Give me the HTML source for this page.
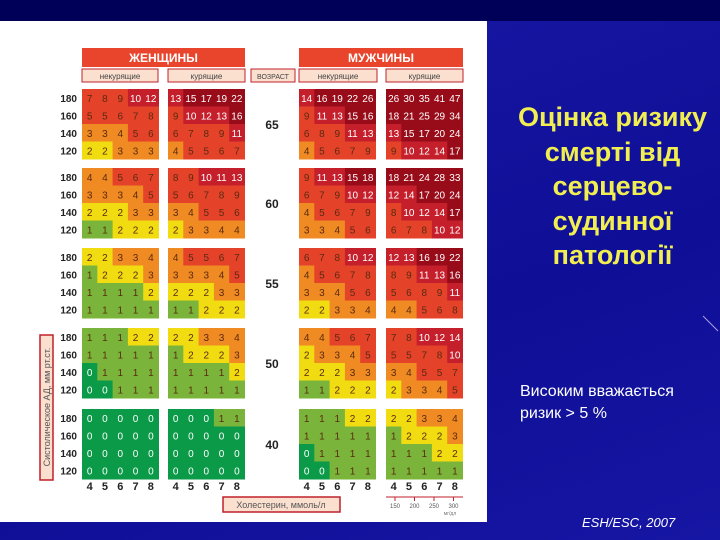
<!DOCTYPE html>
<html><head><meta charset="utf-8">
<style>
body{margin:0;width:720px;height:540px;overflow:hidden;background:#1212a0;font-family:"Liberation Sans",sans-serif;position:relative}
#bg{position:absolute;left:0;top:0;width:720px;height:540px;background:linear-gradient(160deg,#1a1aa8 0%,#0e0e96 60%,#1616a4 100%)}
#top{position:absolute;left:0;top:0;width:720px;height:21px;background:#000058}
#panel{position:absolute;left:0;top:21px;width:487px;height:501px;background:#fff}
#title{position:absolute;left:500px;top:100px;width:225px;text-align:center;color:#f0ee50;font-weight:bold;font-size:27px;line-height:34.5px;white-space:nowrap}
#sub{position:absolute;left:520px;top:381px;color:#fff;font-size:16px;line-height:22px}
#src{position:absolute;left:582px;top:515px;color:#fff;font-size:13px;font-style:italic}
svg{position:absolute;left:0;top:0}
</style></head><body>
<div id="bg"></div>
<div id="top"></div>
<div id="panel"></div>
<div id="title">Оцінка ризику<br>смерті від<br>серцево-<br>судинної<br>патології</div>
<div id="sub">Високим вважається<br>ризик &gt; 5 %</div>
<div id="src">ESH/ESC, 2007</div>
<svg id="chart" width="720" height="540"></svg>
<script>
const ages=["65","60","55","50","40"];
const pressures=["180","160","140","120"];
const cholesterol=["4","5","6","7","8"];
const womenNonSmoker=[
[[7,8,9,10,12],[5,5,6,7,8],[3,3,4,5,6],[2,2,3,3,3]],
[[4,4,5,6,7],[3,3,3,4,5],[2,2,2,3,3],[1,1,2,2,2]],
[[2,2,3,3,4],[1,2,2,2,3],[1,1,1,1,2],[1,1,1,1,1]],
[[1,1,1,2,2],[1,1,1,1,1],[0,1,1,1,1],[0,0,1,1,1]],
[[0,0,0,0,0],[0,0,0,0,0],[0,0,0,0,0],[0,0,0,0,0]]];
const womenSmoker=[
[[13,15,17,19,22],[9,10,12,13,16],[6,7,8,9,11],[4,5,5,6,7]],
[[8,9,10,11,13],[5,6,7,8,9],[3,4,5,5,6],[2,3,3,4,4]],
[[4,5,5,6,7],[3,3,3,4,5],[2,2,2,3,3],[1,1,2,2,2]],
[[2,2,3,3,4],[1,2,2,2,3],[1,1,1,1,2],[1,1,1,1,1]],
[[0,0,0,1,1],[0,0,0,0,0],[0,0,0,0,0],[0,0,0,0,0]]];
const menNonSmoker=[
[[14,16,19,22,26],[9,11,13,15,16],[6,8,9,11,13],[4,5,6,7,9]],
[[9,11,13,15,18],[6,7,9,10,12],[4,5,6,7,9],[3,3,4,5,6]],
[[6,7,8,10,12],[4,5,6,7,8],[3,3,4,5,6],[2,2,3,3,4]],
[[4,4,5,6,7],[2,3,3,4,5],[2,2,2,3,3],[1,1,2,2,2]],
[[1,1,1,2,2],[1,1,1,1,1],[0,1,1,1,1],[0,0,1,1,1]]];
const menSmoker=[
[[26,30,35,41,47],[18,21,25,29,34],[13,15,17,20,24],[9,10,12,14,17]],
[[18,21,24,28,33],[12,14,17,20,24],[8,10,12,14,17],[6,7,8,10,12]],
[[12,13,16,19,22],[8,9,11,13,16],[5,6,8,9,11],[4,4,5,6,8]],
[[7,8,10,12,14],[5,5,7,8,10],[3,4,5,5,7],[2,3,3,4,5]],
[[2,2,3,3,4],[1,2,2,2,3],[1,1,1,2,2],[1,1,1,1,1]]];
const groupLefts=[82,168,299,386];
const blockTops=[89,168,248,328,409];
const cw=15.3,ch=17.5;
const NS="http://www.w3.org/2000/svg";
const svg=document.getElementById('chart');
function mk(tag,attrs,txt){const e=document.createElementNS(NS,tag);for(const k in attrs)e.setAttribute(k,attrs[k]);if(txt!==undefined)e.textContent=txt;svg.appendChild(e);return e;}
function color(v){if(v<=0)return"#0b9a48";if(v==1)return"#7ab43a";if(v==2)return"#f0dc10";if(v<=4)return"#f08a22";if(v<=9)return"#e4432a";if(v<=14)return"#c51f2c";return"#980c1a";}
function xCol(g,c){return groupLefts[g]+c*cw;}
function yRow(a,r){return blockTops[a]+r*ch;}
const groups=[womenNonSmoker,womenSmoker,menNonSmoker,menSmoker];
const gnames=["women-nonsmoker","women-smoker","men-nonsmoker","men-smoker"];
groups.forEach((G,g)=>{ages.forEach((age,a)=>{G[a].forEach((row,r)=>{row.forEach((v,c)=>{
 const rc=mk('rect',{x:xCol(g,c),y:yRow(a,r),width:cw+0.5,height:ch+0.5,fill:color(v)});
 
 
 const tx=mk('text',{x:xCol(g,c)+cw/2,y:yRow(a,r)+ch/2+4,'text-anchor':'middle','font-size':10,fill:(v>=10||v==0)?'#fff':'#5a2a10','font-family':'Liberation Sans'},String(v));
 
 
});});});});
ages.forEach((age,a)=>{
 pressures.forEach((p,r)=>{const t=mk('text',{x:77,y:yRow(a,r)+ch/2+4,'text-anchor':'end','font-size':10,'font-weight':'bold',fill:'#222'},p);
 });
 const t=mk('text',{x:272,y:blockTops[a]+40,'text-anchor':'middle','font-size':12,'font-weight':'bold',fill:'#222'},age);
 
});
groupLefts.forEach((gl,g)=>{cholesterol.forEach((c,i)=>{const t=mk('text',{x:xCol(g,i)+cw/2,y:490,'text-anchor':'middle','font-size':11,'font-weight':'bold',fill:'#222'},c);
 });});
[[82,245,"ЖЕНЩИНЫ"],[299,463,"МУЖЧИНЫ"]].forEach(h=>{
 const r=mk('rect',{x:h[0],y:48,width:h[1]-h[0],height:19,fill:'#e8452c'});
 const t=mk('text',{x:(h[0]+h[1])/2,y:62,'text-anchor':'middle','font-size':12,'font-weight':'bold',fill:'#fff'},h[2]);
});
[[82,158,"некурящие"],[168,245,"курящие"],[251,295,"ВОЗРАСТ"],[299,377,"некурящие"],[386,463,"курящие"]].forEach(h=>{
 const r=mk('rect',{x:h[0],y:69,width:h[1]-h[0],height:13,fill:'#fbe0cf',stroke:'#c0202a','stroke-width':1});
 const t=mk('text',{x:(h[0]+h[1])/2,y:79,'text-anchor':'middle','font-size':h[2]=="ВОЗРАСТ"?7:8,fill:'#444'},h[2]);
});
let r=mk('rect',{x:40,y:335,width:13,height:145,fill:'#fbe0cf',stroke:'#c0202a','stroke-width':1.5});
let t=mk('text',{x:50,y:407,'text-anchor':'middle','font-size':9,fill:'#555',transform:'rotate(-90 50 407)'},"Систолическое АД, мм рт.ст.");
r=mk('rect',{x:223,y:497,width:117,height:15,fill:'#fbe0cf',stroke:'#c0202a','stroke-width':1.5});
t=mk('text',{x:281,y:508,'text-anchor':'middle','font-size':9,fill:'#555'},"Холестерин, ммоль/л");
const mgTicks=["150","200","250","300"];
let l=mk('line',{x1:386,y1:497,x2:463,y2:497,stroke:'#c0202a','stroke-width':1});
mgTicks.forEach((m,i)=>{const x=395+i*19.5;
 const k=mk('line',{x1:x,y1:497,x2:x,y2:501,stroke:'#c0202a'});
 const tt=mk('text',{x:x,y:508,'text-anchor':'middle','font-size':6,fill:'#555'},m);});
t=mk('text',{x:450,y:515,'text-anchor':'middle','font-size':5,fill:'#777'},"мг/дл");
l=mk('line',{x1:703,y1:316,x2:718,y2:331,stroke:'#b0a0e0','stroke-width':1});
</script>
</body></html>
